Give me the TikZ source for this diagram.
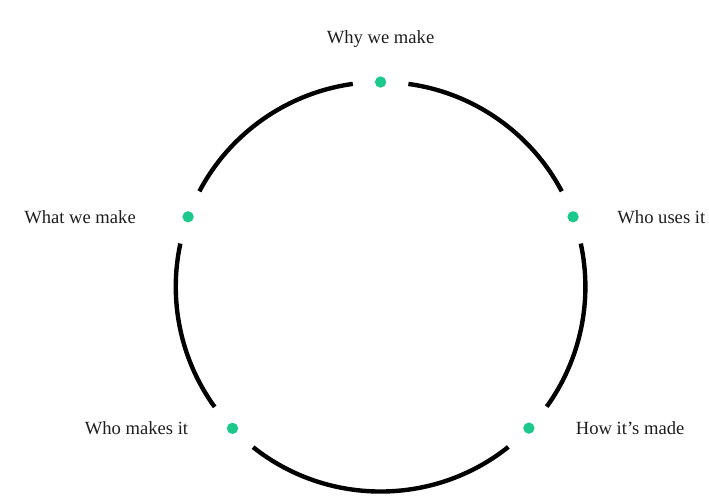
\documentclass[tikz,border=0pt]{standalone}
\usepackage{fontspec}
\setmainfont{Liberation Serif}
\usepackage{tikz}
\usetikzlibrary{positioning}
\definecolor{dotgreen}{RGB}{28,200,140}
\definecolor{ink}{RGB}{30,30,30}
\tikzset{
  spot/.style={circle, fill=dotgreen, inner sep=0pt, minimum size=0.3cm},
  lbl/.style={font=\fontsize{14}{16}\selectfont, text=ink, inner sep=0pt},
  ring/.style={line width=3.3pt, black}
}

\begin{document}
\begin{tikzpicture}[x=1cm, y=1cm]
  \useasboundingbox (-10.07,-5.56) rectangle (8.69,7.59);
  % stages sitting on the ring (radius 5.42)
  \node[spot] (why)  at (90:5.42)    {};
  \node[spot] (what) at (160:5.42)   {};
  \node[spot] (wmk)  at (223.7:5.42) {};
  \node[spot] (how)  at (316.4:5.42) {};
  \node[spot] (who)  at (20:5.42)    {};

  % labels
  \node[lbl, above=0.74cm of why]  {Why we make};
  \node[lbl, left=1.22cm of what]  {What we make};
  \node[lbl, left=1.01cm of wmk]   {Who makes it};
  \node[lbl, right=1.08cm of how]  {How it’s made};
  \node[lbl, right=1.01cm of who]  {Who uses it};

  % gap ends on either side of each stage
  \coordinate (why1)  at (82.2:5.42);
  \coordinate (why2)  at (97.8:5.42);
  \coordinate (what1) at (152.2:5.42);
  \coordinate (what2) at (167.8:5.42);
  \coordinate (wmk1)  at (215.9:5.42);
  \coordinate (wmk2)  at (231.5:5.42);
  \coordinate (how1)  at (308.6:5.42);
  \coordinate (how2)  at (324.2:5.42);
  \coordinate (who1)  at (12.2:5.42);
  \coordinate (who2)  at (27.8:5.42);

  % ring segments between the stages
  \draw[ring] (why2)  to[bend right=27.2, looseness=0.90] (what1);
  \draw[ring] (what2) to[bend right=24.05, looseness=0.89] (wmk1);
  \draw[ring] (wmk2)  to[bend right=38.55, looseness=0.956] (how1);
  \draw[ring] (how2)  to[bend right=24, looseness=0.89]   (who1);
  \draw[ring] (who2)  to[bend right=27.2, looseness=0.90] (why1);
\end{tikzpicture}
\end{document}
